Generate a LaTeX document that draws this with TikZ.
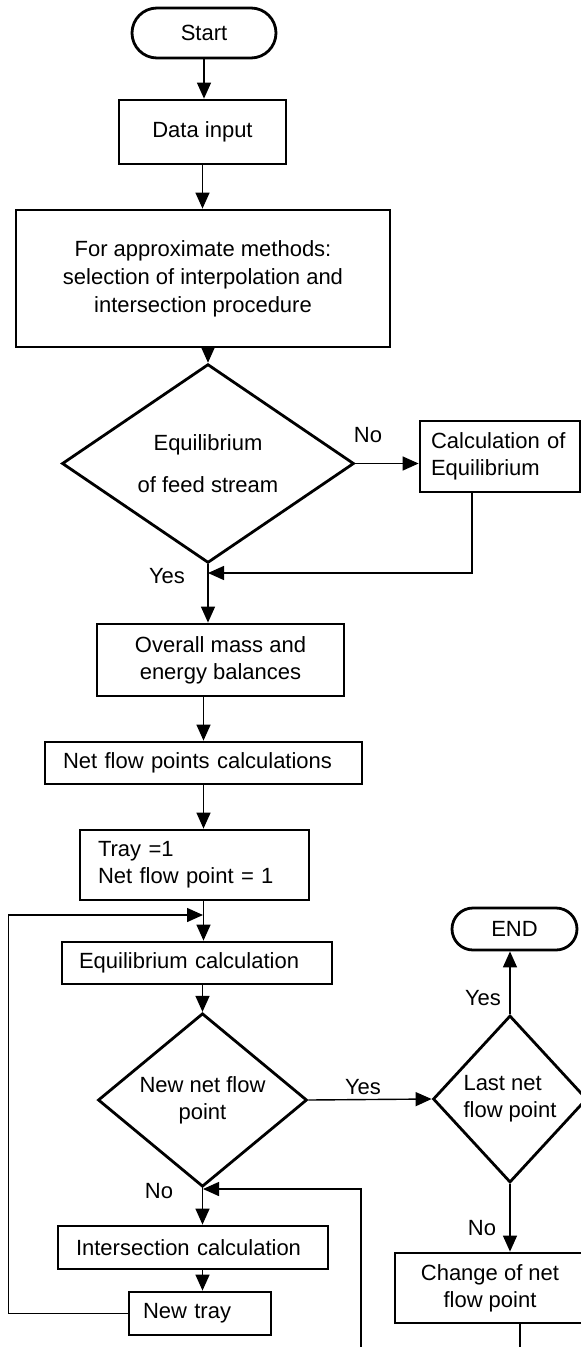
\documentclass[tikz,border=0pt]{standalone}
\usepackage{fontspec}
\setmainfont{Liberation Sans}
\usetikzlibrary{arrows.meta, positioning, shapes.geometric, shapes.misc}

\begin{document}
\begin{tikzpicture}[x=1pt, y=-1pt, every node/.style={font=\fontsize{22}{27}\selectfont}]
  \tikzset{box/.style={draw, line width=2.8pt, inner sep=0pt, align=center},
           lbox/.style={draw, line width=2.8pt, inner ysep=0pt, align=left},
           term/.style={draw, line width=2.8pt, rounded rectangle, inner sep=0pt},
           decision/.style={draw, line width=2.8pt, diamond, inner sep=0pt, align=center},
           arr/.style={line width=1.4pt, -{Triangle[length=16pt, width=14pt]}},
           line/.style={line width=1.4pt}}
  \useasboundingbox (0,0) rectangle (581,1347);
  \clip (0,0) rectangle (581,1347);
  \node[term, minimum width=144, minimum height=50] (start) at (204,33) {Start};
  \node[box, minimum width=167, minimum height=64] (data) at (202.5,132) {Data input};
  \node[box, minimum width=374, minimum height=137, font=\fontsize{22}{28}\selectfont] (meth) at (203,278.5)
    {For approximate methods:\\ selection of interpolation and\\ intersection procedure};
  \node[decision, minimum width=292, minimum height=167] (feed) at (208,463.5) {Equilibrium\\[15pt] of feed stream};
  \node[lbox, text width=138, inner xsep=11, minimum height=71] (calc) at (500,456.5) {Calculation of\\ Equilibrium};
  \node[box, minimum width=247, minimum height=72] (bal) at (220.5,660) {Overall mass and\\ energy balances};
  \node[lbox, text width=281, inner xsep=18, minimum height=42] (nfp) at (203.5,763) {Net flow points calculations};
  \node[lbox, text width=193, inner xsep=18, minimum height=70] (tray) at (194.5,865) {Tray =1\\ Net flow point = 1};
  \node[lbox, text width=236, inner xsep=17, minimum height=42] (eqc) at (197,963) {Equilibrium calculation};
  \node[decision, minimum width=209, minimum height=140] (newnfp) at (202.5,1100) {New net flow\\ point};
  \node[lbox, text width=234, inner xsep=18, minimum height=43] (isec) at (193,1247.5) {Intersection calculation};
  \node[lbox, text width=114, inner xsep=14, minimum height=43] (ntray) at (200,1313.5) {New tray};
  \node[term, minimum width=125, minimum height=42] (end) at (514.5,929) {END};
  \node[decision, minimum width=154, minimum height=167, align=left] (last) at (510,1099) {Last net\\ flow point};
  \node[box, minimum width=190, minimum height=70] (chg) at (490,1288) {Change of net\\ flow point};
  \node (no1) at (368,435) {No};
  \node (yes1) at (167,576) {Yes};
  \node (yes2) at (363,1087) {Yes};
  \node (no2) at (159,1191) {No};
  \node (yes3) at (483,998) {Yes};
  \node (no3) at (482,1228) {No};
  \coordinate (j1) at (208,573);
  \coordinate (j2) at (203,915);
  \coordinate (j3) at (203,1189);
  \coordinate (back) at (361,1347);
  \coordinate (down) at (520,1347);
  \draw[arr] (start.south) -- (start.south |- data.north);
  \draw[arr] (data.south) -- (data.south |- meth.north);
  \draw[arr] (meth.south -| feed.north) -- (feed.north);
  \draw[arr] (feed.east) -- (feed.east -| calc.west);
  \draw[arr] (feed.south) -- (feed.south |- bal.north);
  \draw[arr] ([xshift=-28]calc.south) |- (j1);
  \draw[arr] (bal.south -| nfp.north) -- (nfp.north);
  \draw[arr] (nfp.south) -- (nfp.south |- tray.north);
  \draw[arr] (tray.south -| nfp.south) -- (nfp.south |- eqc.north);
  \draw[arr] (ntray.west) -- ++(-119,0) |- (j2);
  \draw[arr] (eqc.south -| newnfp.north) -- (newnfp.north);
  \draw[arr] (newnfp.south) -- (newnfp.south |- isec.north);
  \draw[arr] (back) |- (j3);
  \draw[arr] (isec.south -| newnfp.south) -- (newnfp.south |- ntray.north);
  \draw[arr] (newnfp.east) -- (last.west);
  \draw[arr] (last.north) -- (last.north |- end.south);
  \draw[arr] (last.south) -- (last.south |- chg.north);
  \draw[line] (chg.south -| down) -- (down);
\end{tikzpicture}
\end{document}
